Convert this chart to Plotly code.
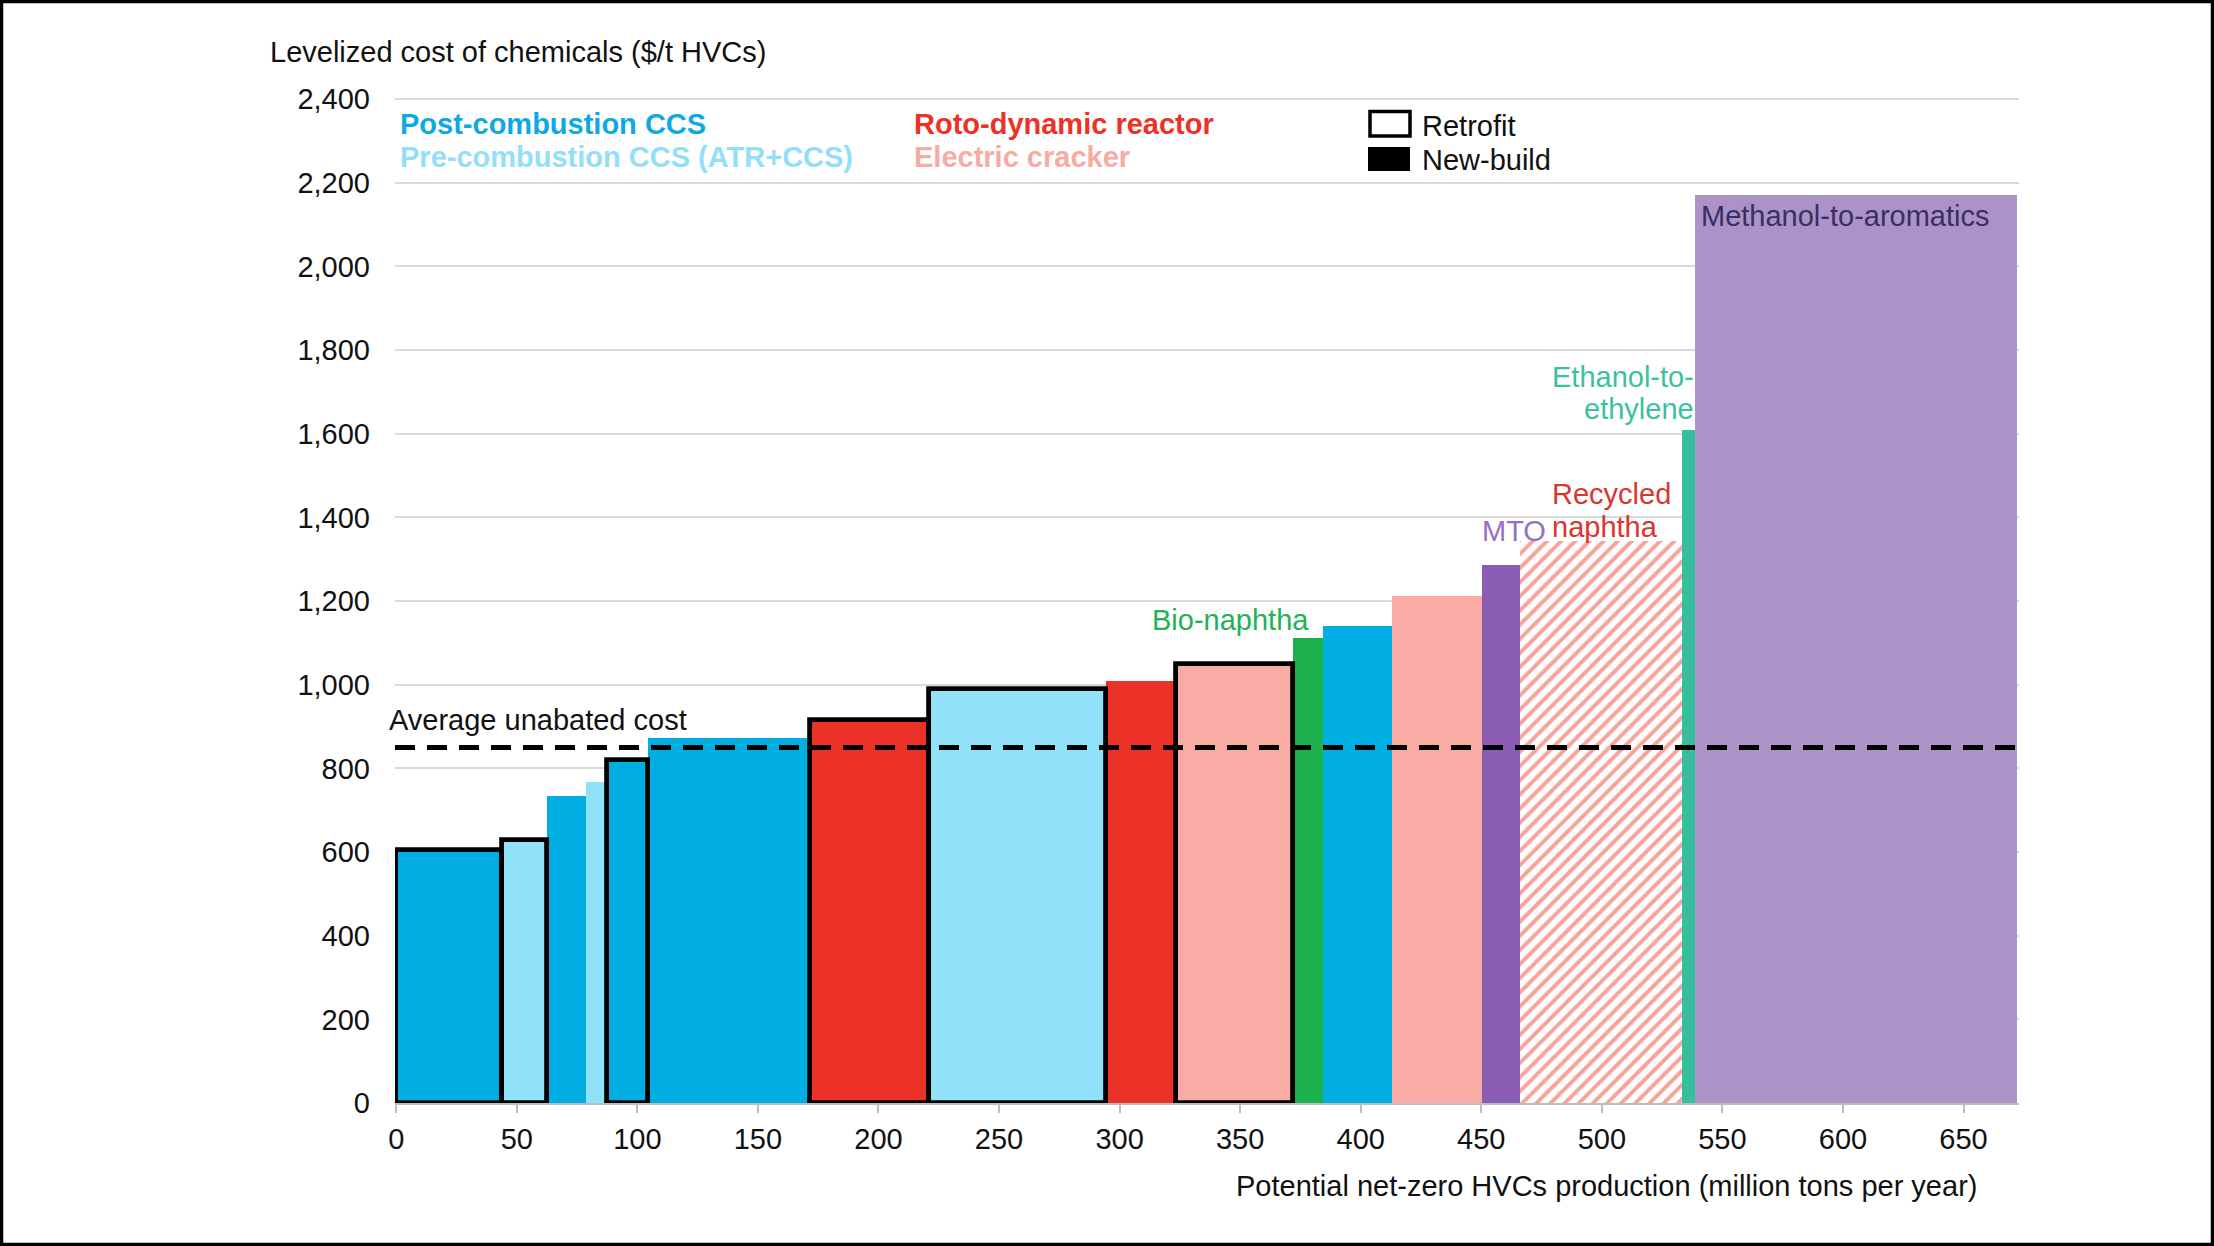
import plotly.graph_objects as go

# ---------------- data ----------------
technology = [
    "Post-combustion CCS", "Pre-combustion CCS (ATR+CCS)", "Post-combustion CCS",
    "Pre-combustion CCS (ATR+CCS)", "Post-combustion CCS", "Post-combustion CCS",
    "Roto-dynamic reactor", "Pre-combustion CCS (ATR+CCS)", "Roto-dynamic reactor",
    "Electric cracker", "Bio-naphtha", "Post-combustion CCS", "Electric cracker",
    "MTO", "Recycled naphtha", "Ethanol-to-ethylene", "Methanol-to-aromatics",
]
build_type = [
    "Retrofit", "Retrofit", "New-build", "New-build", "Retrofit", "New-build",
    "Retrofit", "Retrofit", "New-build", "Retrofit", "New-build", "New-build",
    "New-build", "New-build", "New-build", "New-build", "New-build",
]
production_mt = [44, 18.7, 16.2, 8.4, 17.1, 67.3, 49.3, 73.3, 29.1, 48.5,
                 12.5, 28.5, 37.6, 15.7, 67.1, 5.3, 133.4]
cost_usd_t = [605, 630, 735, 768, 820, 873, 915, 990, 1010, 1050,
              1112, 1141, 1211, 1287, 1343, 1608, 2170]
avg_unabated_cost = 850
x_ticks = list(range(0, 651, 50))
y_ticks = list(range(0, 2401, 200))

# ---------------- style ----------------
tech_color = {
    "Post-combustion CCS": "#00AEE3",
    "Pre-combustion CCS (ATR+CCS)": "#92E1FB",
    "Roto-dynamic reactor": "#EC3126",
    "Electric cracker": "#F8ACA5",
    "Bio-naphtha": "#1CB04E",
    "MTO": "#8A5CB3",
    "Recycled naphtha": "#F6A49B",
    "Ethanol-to-ethylene": "#38BD9F",
    "Methanol-to-aromatics": "#AB93C8",
}
FONT = "Liberation Sans, Arial, sans-serif"
FS = 29

# positions from cumulative production
left_edges = []
acc = 0.0
for w in production_mt:
    left_edges.append(acc)
    acc += w
centers = [l + w / 2 for l, w in zip(left_edges, production_mt)]

fig = go.Figure()

def subset(cond):
    idx = [i for i in range(len(cost_usd_t)) if cond(i)]
    return (
        [centers[i] for i in idx],
        [cost_usd_t[i] for i in idx],
        [production_mt[i] for i in idx],
        [tech_color[technology[i]] for i in idx],
        [technology[i] for i in idx],
    )

# new-build solid bars
xs, ys, ws, cs, tx = subset(lambda i: build_type[i] == "New-build" and technology[i] != "Recycled naphtha")
fig.add_trace(go.Bar(x=xs, y=ys, width=ws, marker=dict(color=cs, line=dict(width=0)),
                     text=tx, hoverinfo="text+y", textposition="none", showlegend=False))

# hatched recycled naphtha
xs, ys, ws, cs, tx = subset(lambda i: technology[i] == "Recycled naphtha")
fig.add_trace(go.Bar(x=xs, y=ys, width=ws,
                     marker=dict(color="white", line=dict(width=0),
                                 pattern=dict(shape="/", fgcolor=tech_color["Recycled naphtha"],
                                              bgcolor="white", size=10, solidity=0.4,
                                              fillmode="replace")),
                     text=tx, hoverinfo="text+y", textposition="none", showlegend=False))

# retrofit bars with black outline
xs, ys, ws, cs, tx = subset(lambda i: build_type[i] == "Retrofit")
fig.add_trace(go.Bar(x=xs, y=ys, width=ws, marker=dict(color=cs, line=dict(width=4.8, color="black")),
                     text=tx, hoverinfo="text+y", textposition="none", showlegend=False))

# ---------------- layout helpers ----------------
L, R, T, B = 395, 2019, 95, 1103
W, H = 2214, 1246
Y_TOP = 2410
def px(x):
    return (x - L) / (R - L)
def py(y):
    return (B - y) / (B - T)

shapes = [
    # average unabated cost line
    dict(type="line", xref="paper", yref="y", x0=0, x1=1.002, y0=avg_unabated_cost, y1=avg_unabated_cost,
         line=dict(color="black", width=5, dash="20px,12px"), layer="above"),
    # legend boxes
    dict(type="rect", xref="paper", yref="paper", x0=px(1370), x1=px(1410), y0=py(111.5), y1=py(136),
         fillcolor="white", line=dict(color="black", width=3.5)),
    dict(type="rect", xref="paper", yref="paper", x0=px(1368), x1=px(1410), y0=py(147), y1=py(171),
         fillcolor="black", line=dict(width=0)),
    # outer frame
    dict(type="rect", xref="paper", yref="paper", x0=px(1.5), x1=px(W - 1.5), y0=py(1.5), y1=py(H - 1.5),
         line=dict(color="black", width=3.5), fillcolor="rgba(0,0,0,0)"),
]

def ann(text, x, y, color, xanchor="left", bold=False, xref="paper", yref="paper"):
    return dict(text=("<b>%s</b>" % text) if bold else text, x=x, y=y, xref=xref, yref=yref,
                xanchor=xanchor, yanchor="middle", showarrow=False,
                font=dict(family=FONT, size=FS, color=color))

annotations = [
    ann("Levelized cost of chemicals ($/t HVCs)", px(268), py(52), "#111111"),
    ann("Potential net-zero HVCs production (million tons per year)", px(1979), py(1186), "#111111", xanchor="right"),
    ann("Post-combustion CCS", px(398), py(124), "#0FA9E2", bold=True),
    ann("Pre-combustion CCS (ATR+CCS)", px(398), py(157), "#93DEF8", bold=True),
    ann("Roto-dynamic reactor", px(912), py(124), "#EC3126", bold=True),
    ann("Electric cracker", px(912), py(157), "#F6ABA3", bold=True),
    ann("Retrofit", px(1420), py(126), "#111111"),
    ann("New-build", px(1420), py(160), "#111111"),
    ann("Average unabated cost", px(387), py(720), "#111111"),
    ann("Bio-naphtha", px(1150), py(620), "#22B155"),
    ann("MTO", px(1480), py(531), "#9270C6"),
    ann("Recycled", px(1550), py(494), "#D9362C"),
    ann("naphtha", px(1550), py(527), "#D9362C"),
    ann("Ethanol-to-", px(1696), py(377), "#3CC1A0", xanchor="right"),
    ann("ethylene", px(1696), py(409), "#3CC1A0", xanchor="right"),
    ann("Methanol-to-aromatics", px(1699), py(216), "#3A2F5E"),
]

fig.update_layout(
    width=W, height=H,
    margin=dict(l=L, r=W - R, t=T, b=H - B, pad=0),
    paper_bgcolor="white", plot_bgcolor="white",
    barmode="overlay", bargap=0,
    font=dict(family=FONT, size=FS, color="#111111"),
    shapes=shapes, annotations=annotations,
    showlegend=False,
    xaxis=dict(range=[-0.5, 673], tickvals=x_ticks, ticktext=[str(v) for v in x_ticks],
               showgrid=False, zeroline=False, showline=True, linecolor="#BDBDBD", linewidth=1.5,
               ticks="outside", ticklen=8, tickwidth=1.5, tickcolor="#BDBDBD",
               tickfont=dict(family=FONT, size=FS, color="#111111"), ticklabelstandoff=1),
    yaxis=dict(range=[0, Y_TOP], tickvals=y_ticks, tickformat=",d",
               showgrid=True, gridcolor="#D9D9D9", gridwidth=1.5, zeroline=False, showline=False,
               ticks="", tickfont=dict(family=FONT, size=FS, color="#111111"), ticklabelstandoff=24),
)

fig.write_html("out.html", config={"displayModeBar": False},
               post_script="document.body.style.margin='0';document.body.style.overflow='hidden';")
